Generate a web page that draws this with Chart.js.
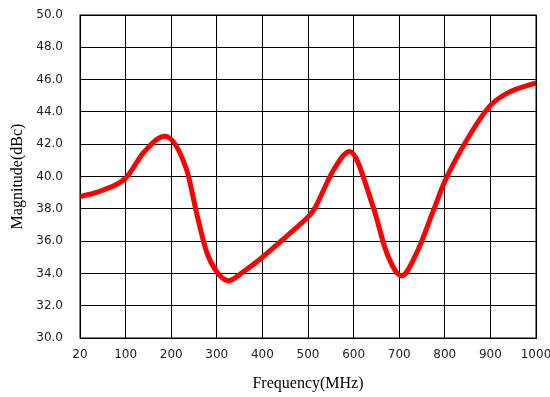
<!DOCTYPE html>
<html>
<head>
<meta charset="utf-8">
<script src="https://cdn.jsdelivr.net/npm/chart.js@4"></script>
<style>
  html, body { margin: 0; padding: 0; background: #fff; }
  #wrap { width: 550px; height: 397px; }
</style>
</head>
<body>
<div id="wrap"><canvas id="chart" width="550" height="397"></canvas></div>
<script>
// x axis is a category axis in the original: equal spacing between these ticks
const freqTicks = [20, 100, 200, 300, 400, 500, 600, 700, 800, 900, 1000];
const yTicks = [30, 32, 34, 36, 38, 40, 42, 44, 46, 48, 50];

const freqMHz = [20, 60, 100, 140, 186, 234, 256, 278, 300, 325, 358, 400, 453, 500, 512,
                 556, 591, 643, 673, 705, 738, 775, 800, 848, 900, 936, 1000];
const magnitude = [38.75, 39.15, 39.9, 41.5, 42.5, 40.4, 37.7, 35.3, 34.1, 33.55, 34.1, 35.0, 36.3, 37.5, 37.9,
                   40.4, 41.55, 38.1, 35.25, 33.85, 35.25, 37.9, 39.7, 42.25, 44.4, 45.15, 45.8];

// position of a frequency on the category axis (piecewise between ticks)
function freqToPos(f) {
    for (let i = 0; i < freqTicks.length - 1; i++) {
        const a = freqTicks[i], b = freqTicks[i + 1];
        if (f <= b) return i + (f - a) / (b - a);
    }
    return freqTicks.length - 1;
}

const points = freqMHz.map((f, i) => ({ x: freqToPos(f), y: magnitude[i] }));

const ctx = document.getElementById('chart').getContext('2d');
new Chart(ctx, {
    type: 'line',
    data: {
        datasets: [{
            data: points,
            borderColor: '#ff0000',
            borderWidth: 5,
            pointRadius: 0,
            fill: false,
            cubicInterpolationMode: 'monotone'
        }]
    },
    options: {
        responsive: false,
        animation: false,
        layout: { padding: { left: 0, right: 14, top: 15, bottom: 0 } },
        plugins: { legend: { display: false }, tooltip: { enabled: false } },
        scales: {
            x: {
                type: 'linear',
                min: 0,
                max: freqTicks.length - 1,
                afterBuildTicks: (scale) => {
                    scale.ticks = freqTicks.map((_, i) => ({ value: i }));
                },
                afterFit: (scale) => {
                    scale.height = 59;
                    scale.paddingLeft = 0;
                    scale.paddingRight = 0;
                },
                ticks: {
                    autoSkip: false,
                    maxRotation: 0,
                    padding: 10,
                    color: '#222',
                    font: { family: 'DejaVu Sans', size: 12 },
                    callback: (v) => freqTicks[v]
                },
                grid: { color: '#000', lineWidth: 1, drawTicks: false },
                border: { color: '#000', width: 1 },
                title: {
                    display: true,
                    text: 'Frequency(MHz)',
                    color: '#000',
                    font: { family: 'Liberation Serif', size: 16 },
                    padding: { top: 0, bottom: 4 }
                }
            },
            y: {
                min: 30,
                max: 50,
                afterBuildTicks: (scale) => {
                    scale.ticks = yTicks.map((v) => ({ value: v }));
                },
                afterFit: (scale) => {
                    scale.width = 80;
                    scale.paddingTop = 0;
                    scale.paddingBottom = 0;
                },
                ticks: {
                    padding: 17,
                    color: '#222',
                    font: { family: 'DejaVu Sans', size: 12 },
                    callback: (v) => v.toFixed(1)
                },
                grid: { color: '#000', lineWidth: 1, drawTicks: false },
                border: { color: '#000', width: 1 },
                title: {
                    display: true,
                    text: 'Magnitude(dBc)',
                    color: '#000',
                    font: { family: 'Liberation Serif', size: 16 },
                    padding: { top: 8, bottom: 0 }
                }
            }
        }
    },
    plugins: [{
        id: 'frame',
        afterDatasetsDraw(chart) {
            const a = chart.chartArea, c = chart.ctx;
            c.save();
            c.strokeStyle = '#000';
            c.lineWidth = 1;
            c.strokeRect(a.left, a.top, a.right - a.left, a.bottom - a.top);
            c.restore();
        }
    }]
});
</script>
</body>
</html>
